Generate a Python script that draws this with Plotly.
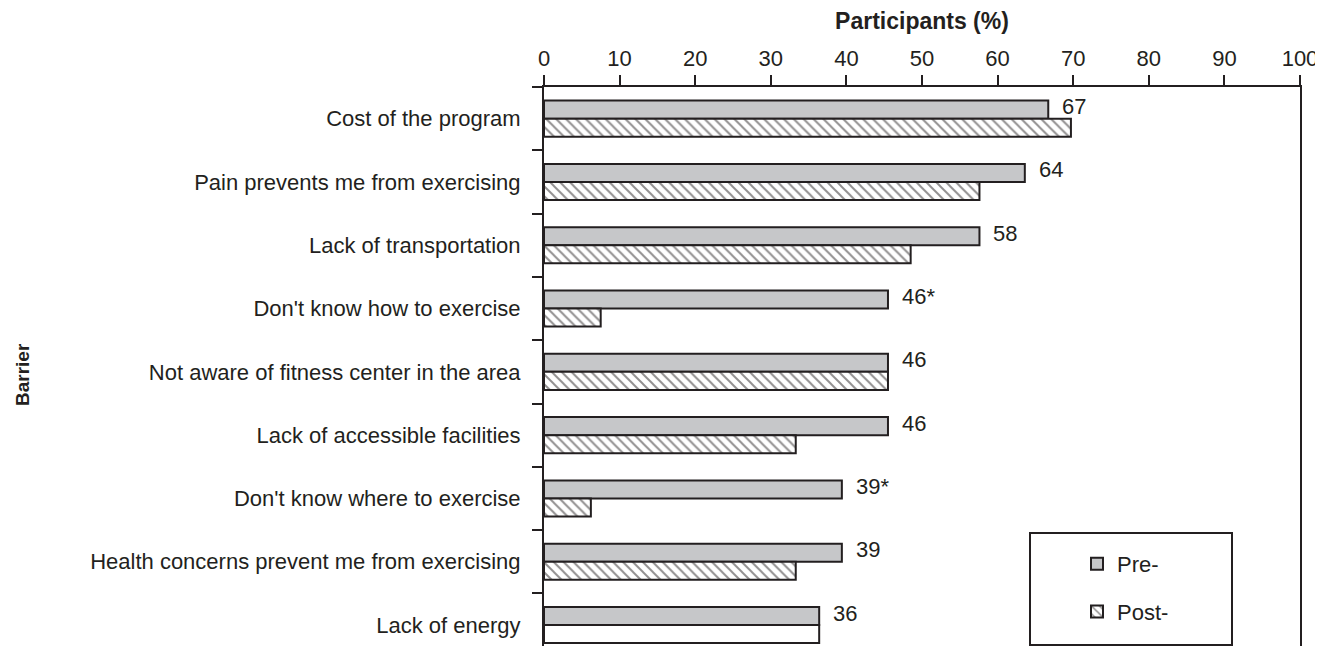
import plotly.graph_objects as go

categories = [
    "Cost of the program",
    "Pain prevents me from exercising",
    "Lack of transportation",
    "Don't know how to exercise",
    "Not aware of fitness center in the area",
    "Lack of accessible facilities",
    "Don't know where to exercise",
    "Health concerns prevent me from exercising",
    "Lack of energy",
]
pre_values = [66.7, 63.6, 57.6, 45.5, 45.5, 45.5, 39.4, 39.4, 36.4]
post_values = [69.7, 57.6, 48.5, 7.5, 45.5, 33.3, 6.2, 33.3, 36.4]
pre_labels = ["67", "64", "58", "46*", "46", "46", "39*", "39", "36"]
post_hatch = ["\\"] * 8 + [""]
x_ticks = list(range(0, 101, 10))

INK = "#231f20"
FONT = "Liberation Sans, Arial, Helvetica, sans-serif"

# page body has an 8px default margin; figure sized so the page does not scroll
OFF = 8
W, H = 1323 - OFF, 654 - 2 * OFF
L, R, T, B = 544 - OFF, 23, 87 - OFF, 0
pw, ph = W - L - R, H - T - B
ROW = 63.3  # px per category row
y_bottom = -0.5 + ph / ROW

def px_x(x):  # page pixel -> paper
    return (x - OFF - L) / pw

def px_y(y):
    return (H - B - (y - OFF)) / ph

fig = go.Figure()
fig.add_trace(go.Bar(
    y=categories, x=pre_values, orientation="h", name="Pre-",
    legendgroup="pre",
    marker=dict(color="#c6c7c9", line=dict(color=INK, width=2)),
))
fig.add_trace(go.Bar(
    y=categories, x=post_values, orientation="h", name="Post-",
    legendgroup="post",
    marker=dict(color="white", line=dict(color=INK, width=2),
                pattern=dict(shape=post_hatch, fgcolor=INK, bgcolor="white",
                             size=7, solidity=0.28)),
))

annotations = []
for cat, v, lab in zip(categories, pre_values, pre_labels):
    annotations.append(dict(
        x=v, y=cat, xref="x", yref="y", text=lab, showarrow=False,
        xanchor="left", yanchor="middle", xshift=12, yshift=12,
        font=dict(family=FONT, size=22, color=INK),
    ))
annotations.append(dict(
    x=px_x(22), y=px_y(375), xref="paper", yref="paper", text="<b>Barrier</b>",
    textangle=-90, showarrow=False, xanchor="center", yanchor="middle",
    font=dict(family=FONT, size=19, color=INK),
))

fig.update_layout(
    width=W, height=H,
    margin=dict(l=L, r=R, t=T, b=B, pad=0),
    paper_bgcolor="white", plot_bgcolor="white",
    barmode="group", bargap=0.43, bargroupgap=0,
    font=dict(family=FONT, size=22, color=INK),
    showlegend=True,
    legend=dict(
        x=px_x(1077), y=px_y(543), xanchor="left", yanchor="top",
        traceorder="grouped", tracegroupgap=16,
        bgcolor="rgba(0,0,0,0)", borderwidth=0,
        font=dict(family=FONT, size=22, color=INK),
    ),
    shapes=[dict(
        type="rect", xref="paper", yref="paper",
        x0=px_x(1030), x1=px_x(1232), y0=px_y(645), y1=px_y(533),
        line=dict(color=INK, width=2), fillcolor="rgba(0,0,0,0)", layer="below",
    )],
    annotations=annotations,
)

fig.update_xaxes(
    range=[0, 100], side="top", tickvals=x_ticks,
    ticktext=[str(t) for t in x_ticks],
    ticks="outside", ticklen=10, tickwidth=2, tickcolor=INK,
    showline=True, linecolor=INK, linewidth=2, mirror=False,
    showgrid=False, zeroline=False,
    tickfont=dict(family=FONT, size=22, color=INK),
    title=dict(text="<b>Participants (%)</b>", standoff=12,
               font=dict(family=FONT, size=23, color=INK)),
)
fig.update_yaxes(
    type="category", categoryorder="array", categoryarray=categories,
    range=[y_bottom, -0.5],
    ticks="outside", ticklen=10, tickwidth=2, tickcolor=INK, tickson="boundaries",
    showline=True, linecolor=INK, linewidth=2, mirror=True,
    showgrid=False, zeroline=False, ticklabelstandoff=17,
    tickfont=dict(family=FONT, size=22, color=INK),
)

fig.write_html("out.html", config={"displayModeBar": False})
